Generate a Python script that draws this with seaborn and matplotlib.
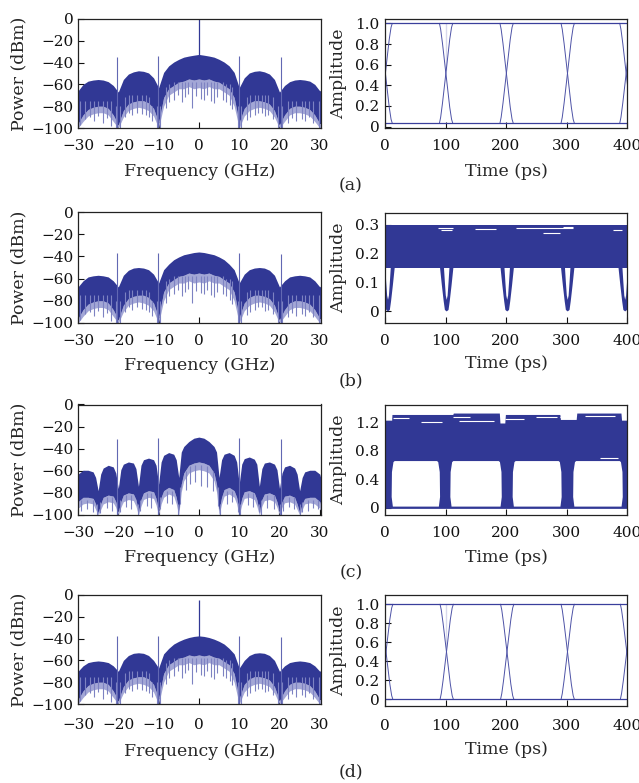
import matplotlib.pyplot as plt
import numpy as np
import seaborn as sns

# ---------------- spectra (left column) ----------------
# shared frequency grid for panels a, b, d (GHz)
f_abd = [-31.25, -30, -28.75, -27.5, -26.25, -25, -23.75, -22.5, -21.25, -20,
         -18.75, -17.5, -16.25, -15, -13.75, -12.5, -11.25, -10, -8.75, -7.5,
         -6.25, -5, -3.75, -2.5, -1.25, 0, 1.25, 2.5, 3.75, 5, 6.25, 7.5, 8.75,
         10, 11.25, 12.5, 13.75, 15, 16.25, 17.5, 18.75, 20, 21.25, 22.5, 23.75,
         25, 26.25, 27.5, 28.75, 30, 31.25]

# upper envelope (dBm)
a_top = [-61, -66, -60, -57, -56, -55.5, -56, -57.5, -61, -67,
         -55.5, -50.5, -48.5, -47.5, -48, -49.5, -54, -63, -49, -43,
         -39.5, -37, -35, -34, -33.2, -32.5, -33.2, -34, -35, -37, -39.5, -43, -49,
         -63, -54, -49.5, -48, -47.5, -48.5, -50.5, -55.5, -67, -61, -57.5, -56,
         -55.5, -56, -57, -60, -66, -61]
b_top = [-62, -67.5, -62, -58.5, -57.5, -57, -57.5, -58.5, -62, -67.5,
         -57, -52.5, -50.5, -50, -50.5, -52, -56, -64, -52, -47,
         -43, -40.5, -38.5, -37.5, -36.5, -36, -36.5, -37.5, -38.5, -40.5, -43, -47, -52,
         -64, -56, -52, -50.5, -50, -50.5, -52.5, -57, -67.5, -62, -58.5, -57.5,
         -57, -57.5, -58.5, -62, -67.5, -62]
d_top = [-65, -70, -65, -62, -61, -60.5, -61, -62, -65, -70,
         -60, -55.5, -53.5, -53, -53.5, -55.5, -60, -67, -54, -49,
         -45, -42.5, -40.5, -39, -38, -37.5, -38, -39, -40.5, -42.5, -45, -49, -54,
         -67, -60, -55.5, -53.5, -53, -53.5, -55.5, -60, -70, -65, -62, -61,
         -60.5, -61, -62, -65, -70, -65]
# lower edge of the dense part and of the sparse part (dBm)
abd_mid = [-90, -96, -88, -83, -81, -80, -80, -82, -88, -97,
           -84, -78, -76, -75, -75, -77, -82, -95, -72, -64,
           -61, -58, -57, -55, -56, -55, -56, -55, -57, -58, -61, -64, -72,
           -95, -82, -77, -75, -75, -76, -78, -84, -97, -88, -82, -80,
           -80, -81, -83, -88, -96, -90]
abd_low = [-96, -100, -94, -89, -87, -86, -86, -88, -94, -100,
           -90, -84, -82, -81, -82, -84, -89, -100, -80, -70,
           -67, -64, -64, -62, -64, -63, -64, -62, -64, -64, -67, -70, -80,
           -100, -89, -84, -82, -81, -82, -84, -90, -100, -94, -88, -86,
           -86, -87, -89, -94, -100, -96]
# thin downward spikes: position, lowest and highest point (dBm)
spike_f_abd = [-29.4, -28.2, -27.0, -26.0, -25.0, -23.9, -22.8, -21.9, -20.6, -19.7,
               -18.4, -17.4, -16.6, -15.3, -14.2, -13.2, -12.4, -11.6, -10.4, -9.6,
               -8.1, -7.3, -6.2, -5.2, -4.1, -3.4, -2.6, -1.6, -0.8, 0.4, 1.3,
               2.0, 3.0, 3.8, 4.6, 5.9, 6.8, 7.6, 8.2, 9.7, 10.5, 11.9, 12.8,
               13.8, 14.6, 15.6, 16.4, 17.2, 18.3, 19.6, 20.6, 22.1, 23.2, 24.0,
               25.5, 26.3, 27.4, 28.4, 29.7]
spike_y_abd = [-97, -92, -90, -94, -89, -95, -91, -98, -100, -100,
               -90, -86, -88, -86, -87, -88, -90, -94, -100, -100,
               -82, -76, -74, -70, -76, -72, -69, -82, -71, -73, -74,
               -70, -75, -77, -72, -74, -76, -79, -83, -100, -100, -93, -90,
               -88, -86, -86, -89, -88, -92, -100, -100, -95, -91, -94,
               -92, -94, -90, -95, -100]
spike_top_abd = [-75, -75, -75, -75, -75, -75, -75, -75, -80, -80,
                 -72, -70, -70, -70, -70, -70, -72, -80, -80, -80,
                 -62, -60, -58, -58, -58, -58, -58, -58, -58, -58, -58,
                 -58, -58, -58, -58, -58, -60, -60, -62, -80, -80, -72, -70,
                 -70, -70, -70, -70, -70, -72, -80, -80, -75, -75, -75,
                 -75, -75, -75, -75, -75]

# panel c has lobes every 5 GHz
f_c = [-31.25, -30.625, -30, -28.75, -27.5, -26.25, -25.625, -25, -24.375, -23.75,
       -22.5, -21.25, -20.625, -20, -19.375, -18.75, -17.5, -16.25, -15.625, -15,
       -14.375, -13.75, -12.5, -11.25, -10.625, -10, -9.375, -8.75, -7.5, -6.25,
       -5.625, -5, -4.375, -3.75, -2.5, -1.25, 0, 1.25, 2.5, 3.75, 4.375, 5,
       5.625, 6.25, 7.5, 8.75, 9.375, 10, 10.625, 11.25, 12.5, 13.75, 14.375, 15,
       15.625, 16.25, 17.5, 18.75, 19.375, 20, 20.625, 21.25, 22.5, 23.75, 24.375,
       25, 25.625, 26.25, 27.5, 28.75, 30, 30.625, 31.25]
c_top = [-66, -72, -63, -59.5, -59.5, -61, -66, -78, -63, -57.5,
         -55, -56.5, -62, -76, -59, -54, -52, -53, -58, -74,
         -55, -50, -48.5, -50, -55, -72, -52, -46, -43.5, -45,
         -50, -66, -43, -38, -33.5, -30.5, -29.5, -30.5, -33.5, -38, -43, -66,
         -50, -45, -43.5, -46, -52, -72, -54, -49, -47.5, -49.5, -54, -74,
         -58, -53, -52, -54, -59, -76, -62, -56.5, -55, -57.5, -63,
         -78, -66, -61, -59.5, -59.5, -63, -72, -66]
c_mid = [-88, -96, -88, -84, -84, -85, -90, -98, -90, -84,
         -82, -83, -88, -97, -88, -82, -80, -81, -86, -97,
         -86, -80, -78, -79, -85, -96, -84, -78, -75, -77,
         -84, -96, -72, -62, -55, -53, -52, -53, -55, -62, -72, -96,
         -84, -77, -75, -78, -84, -96, -85, -79, -78, -80, -86, -97,
         -86, -81, -80, -82, -88, -97, -88, -83, -82, -84, -90,
         -98, -90, -85, -84, -84, -88, -96, -88]
c_low = [-94, -100, -94, -90, -89, -90, -95, -100, -95, -90,
         -88, -89, -93, -100, -93, -88, -86, -87, -92, -100,
         -92, -86, -84, -85, -91, -100, -90, -84, -81, -83,
         -90, -100, -79, -69, -62, -60, -59, -60, -62, -69, -79, -100,
         -90, -83, -81, -84, -90, -100, -91, -85, -84, -86, -92, -100,
         -92, -87, -86, -88, -93, -100, -93, -89, -88, -90, -95,
         -100, -95, -90, -89, -90, -94, -100, -94]
spike_f_c = [-29.2, -27.8, -26.4, -25.2, -24.6, -22.9, -21.6, -20.3, -19.6, -18.1,
             -16.8, -15.2, -14.7, -13.0, -11.8, -10.2, -9.6, -7.9, -6.6, -5.1,
             -4.7, -3.1, -2.3, -1.0, 0.6, 2.1, 3.4, 4.8, 5.2, 6.9, 8.2, 9.8,
             10.3, 12.2, 13.4, 14.9, 15.4, 17.0, 18.6, 20.2, 20.8, 22.3, 23.7,
             25.1, 25.7, 27.0, 28.4, 29.5]
spike_y_c = [-96, -95, -97, -100, -98, -94, -96, -100, -97, -93,
             -95, -100, -96, -92, -94, -100, -95, -89, -90, -100,
             -90, -77, -72, -70, -74, -75, -78, -92, -100, -90, -88, -97,
             -100, -91, -93, -97, -100, -94, -95, -100, -96, -93, -95,
             -100, -97, -96, -94, -95]
spike_top_c = [-86, -86, -86, -90, -88, -84, -84, -90, -86, -82,
               -82, -90, -86, -80, -80, -90, -84, -78, -78, -90,
               -75, -60, -56, -55, -55, -56, -60, -75, -90, -78, -78, -90,
               -90, -80, -80, -90, -86, -82, -82, -90, -86, -84, -84,
               -90, -88, -86, -86, -86]

# discrete tones
tone_f = [-20.3, -10.2, 10.0, 20.3]
tone_a = [-34.5, -34, -34, -35]
tone_b = [-37, -36.5, -36.5, -37.5]
tone_c = [-31.5, -30, -30, -31.5]
tone_d = [-38, -37.5, -37.5, -38.5]
carrier_a = 0
carrier_d = -4.5

# ---------------- eye diagrams (right column) ----------------
# clean eyes (a) and (d)
edge_dt = [-11, -9, -6, -3, 0, 3, 6, 9, 11]
edge_frac = [0, 0.06, 0.2, 0.36, 0.52, 0.68, 0.84, 0.96, 1.0]
cross_a = [1, 101, 201, 302, 399]
cross_d = [2, 102, 202, 302, 400]
level_a = [0.033, 1.0]
level_d = [0.0, 1.0]
glitch_t = 100.5

# eye (b)
b_band = [0.15, 0.30]
b_dips = [5, 102, 202, 302, 397]
dip_dt = [-11, -8, -5, -3, 0, 3, 5, 8, 11]
dip_outer = [0.15, 0.09, 0.035, 0.005, 0.0, 0.005, 0.035, 0.09, 0.15]
dip_in_dt = [-4.5, -3, -1.5, 0, 1.5, 3, 4.5]
dip_inner = [0.15, 0.1, 0.055, 0.04, 0.055, 0.1, 0.15]
b_streak_t0 = [88, 92, 149, 217, 261, 294, 377]
b_streak_t1 = [113, 110, 184, 311, 289, 311, 391]
b_streak_y = [0.289, 0.282, 0.285, 0.287, 0.272, 0.293, 0.283]

# eye (c)
c_top_t = [0, 11, 11.5, 112, 113, 189, 190, 198, 199, 289, 290, 316, 317, 390, 391, 400]
c_top_y = [1.23, 1.23, 1.31, 1.31, 1.33, 1.33, 1.19, 1.19, 1.31, 1.31, 1.24, 1.24,
           1.33, 1.33, 1.23, 1.23]
c_eye_t0 = [11, 108, 211, 311]
c_eye_t1 = [91, 193, 292, 393]
c_eye_dx = [2, 0, 0.5, 3, 5]
c_eye_y = [0.015, 0.15, 0.5, 0.64, 0.655]
c_streak_t0 = [14, 60, 112, 122, 199, 250, 290, 330, 355]
c_streak_t1 = [40, 95, 140, 180, 230, 285, 310, 380, 385]
c_streak_y = [1.26, 1.2, 1.27, 1.22, 1.25, 1.28, 1.27, 1.29, 0.7]

DARK = "#313895"
LIGHT = "#a3a7d6"
SPIKE = "#7d82c2"
TONE = "#6268b3"

sns.set_theme(style="ticks")
plt.rcParams["font.family"] = ["DejaVu Serif"]
plt.rcParams["axes.linewidth"] = 0.9
plt.rcParams["axes.edgecolor"] = "#222222"

fig = plt.figure(figsize=(6.39, 7.83), dpi=100)
W, H = 639, 783


def box(x0, y0, x1, y1):
    return [x0 / W, 1 - y1 / H, (x1 - x0) / W, (y1 - y0) / H]


# pixel rows: (top, bottom, xlabel centre)
rows_left = [(19, 128, 172), (212, 323, 365), (404.5, 515, 558), (595, 704, 751)]
rows_right = [(19, 128, 172), (213, 323, 363), (405, 515, 558), (595, 706, 749)]


def style(ax, xpad):
    ax.tick_params(direction="in", length=4, width=0.8, top=False, right=False,
                   labelsize=11, colors="#111111")
    ax.tick_params(axis="x", pad=xpad)
    ax.tick_params(axis="y", pad=3)
    for s in ax.spines.values():
        s.set_color("#222222")


def place_labels(ax, row, xl, yl, ylx):
    top, bottom, lab_y = row
    ax.set_xlabel(xl, fontsize=12.5)
    ax.set_ylabel(yl, fontsize=12.5)
    ax.xaxis.set_label_coords(0.5, -(lab_y - bottom) / (bottom - top))
    ax.yaxis.set_label_coords(ylx, 0.5)
    ax.xaxis.label.set_va("center")
    ax.yaxis.label.set_va("center")


def spectrum(ax, row, f, top, mid, low, spk_f, spk_y, spk_top, tones, carrier):
    ax.fill_between(f, low, mid, color=LIGHT, lw=0)
    ax.vlines(spk_f, spk_y, spk_top, color=SPIKE, lw=0.8)
    ax.fill_between(f, mid, top, color=DARK, lw=0)
    ax.vlines(tone_f, -100, tones, color=TONE, lw=0.8)
    if carrier is not None:
        ax.vlines([0], -40, [carrier], color=DARK, lw=0.9)
    ax.set_xlim(-30, 30.3)
    ax.set_ylim(-100, 0)
    ax.set_xticks([-30, -20, -10, 0, 10, 20, 30])
    ax.set_xticklabels(["\u221230", "\u221220", "\u221210", "0", "10", "20", "30"])
    ax.set_yticks([0, -20, -40, -60, -80, -100])
    ax.set_yticklabels(["0", "\u221220", "\u221240", "\u221260", "\u221280", "\u2212100"])
    style(ax, 8 if row[1] < 700 else 10)
    place_labels(ax, row, "Frequency (GHz)", "Power (dBm)", -0.245)


def eye_axes(ax, row, ylim, yticks, ylabels):
    ax.set_xlim(0, 400)
    ax.set_ylim(*ylim)
    ax.set_xticks([0, 100, 200, 300, 400])
    ax.set_xticklabels(["0", "100", "200", "300", "400"])
    ax.set_yticks(yticks)
    ax.set_yticklabels(ylabels)
    style(ax, 8 if row[1] < 700 else 9)
    ax.tick_params(axis="y", pad=4)
    place_labels(ax, row, "Time (ps)", "Amplitude", -0.19)


def clean_eye(ax, cross, level):
    lo, hi = level
    dt = np.array(edge_dt)
    fr = np.array(edge_frac)
    for tc in cross:
        sns.lineplot(x=tc + dt, y=lo + (hi - lo) * fr, ax=ax, color="#4d52a6",
                     lw=0.7, sort=False, estimator=None)
        sns.lineplot(x=tc + dt, y=hi - (hi - lo) * fr, ax=ax, color="#4d52a6",
                     lw=0.7, sort=False, estimator=None)
    for lv in level:
        sns.lineplot(x=[0, 400], y=[lv, lv], ax=ax, color="#3a3f9c", lw=0.9)
    sns.lineplot(x=[glitch_t, glitch_t], y=[hi, 0.55], ax=ax, color="#3a3f9c", lw=0.8)


# ----- left column -----
spec_sets = [
    (f_abd, a_top, abd_mid, abd_low, spike_f_abd, spike_y_abd, spike_top_abd, tone_a, carrier_a),
    (f_abd, b_top, abd_mid, abd_low, spike_f_abd, spike_y_abd, spike_top_abd, tone_b, None),
    (f_c, c_top, c_mid, c_low, spike_f_c, spike_y_c, spike_top_c, tone_c, None),
    (f_abd, d_top, abd_mid, abd_low, spike_f_abd, spike_y_abd, spike_top_abd, tone_d, carrier_d),
]
for row, args in zip(rows_left, spec_sets):
    ax = fig.add_axes(box(78, row[0], 321, row[1]))
    spectrum(ax, row, *args)

# ----- right column -----
# (a)
row = rows_right[0]
ax = fig.add_axes(box(385, row[0], 627, row[1]))
clean_eye(ax, cross_a, level_a)
eye_axes(ax, row, (-0.013, 1.042), [0, 0.2, 0.4, 0.6, 0.8, 1.0],
         ["0", "0.2", "0.4", "0.6", "0.8", "1.0"])

# (b)
row = rows_right[1]
ax = fig.add_axes(box(385, row[0], 627, row[1]))
ax.fill_between([0, 400], b_band[0], b_band[1], color=DARK, lw=0)
for tc in b_dips:
    ax.fill(tc + np.array(dip_dt), dip_outer, color=DARK, lw=0)
    ax.fill(tc + np.array(dip_in_dt), dip_inner, color="white", lw=0)
ax.hlines(b_streak_y, b_streak_t0, b_streak_t1, color="white", lw=0.8)
eye_axes(ax, row, (-0.04, 0.34), [0, 0.1, 0.2, 0.3], ["0", "0.1", "0.2", "0.3"])

# (c)
row = rows_right[2]
ax = fig.add_axes(box(385, row[0], 627, row[1]))
ax.fill_between(c_top_t, -0.01, c_top_y, color=DARK, lw=0)
for t0, t1 in zip(c_eye_t0, c_eye_t1):
    xs = [t0 + d for d in c_eye_dx] + [t1 - d for d in c_eye_dx[::-1]]
    ys = c_eye_y + c_eye_y[::-1]
    ax.fill(xs, ys, color="white", lw=0)
ax.hlines(c_streak_y, c_streak_t0, c_streak_t1, color="white", lw=0.8)
eye_axes(ax, row, (-0.103, 1.443), [0, 0.4, 0.8, 1.2], ["0", "0.4", "0.8", "1.2"])

# (d)
row = rows_right[3]
ax = fig.add_axes(box(385, row[0], 627, row[1]))
clean_eye(ax, cross_d, level_d)
eye_axes(ax, row, (-0.07, 1.097), [0, 0.2, 0.4, 0.6, 0.8, 1.0],
         ["0", "0.2", "0.4", "0.6", "0.8", "1.0"])

for lab, y in zip(["(a)", "(b)", "(c)", "(d)"], [186, 381, 573, 772]):
    fig.text(351 / W, 1 - y / H, lab, ha="center", va="center", fontsize=12.5)

fig.savefig("out.png", dpi=100)
